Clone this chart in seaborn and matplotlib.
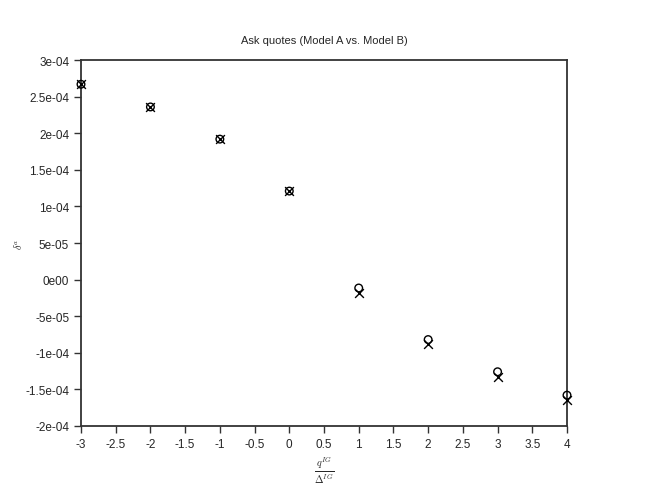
import matplotlib
matplotlib.use("Agg")
import matplotlib.pyplot as plt
import seaborn as sns
import pandas as pd

# Data
q_ratio = [-3, -2, -1, 0, 1, 2, 3, 4]
model_a = [2.67e-4, 2.36e-4, 1.92e-4, 1.21e-4, -1.15e-5, -8.2e-5, -1.26e-4, -1.58e-4]
model_b = [2.67e-4, 2.36e-4, 1.92e-4, 1.21e-4, -1.8e-5, -8.8e-5, -1.33e-4, -1.65e-4]

x_ticks = [-3, -2.5, -2, -1.5, -1, -0.5, 0, 0.5, 1, 1.5, 2, 2.5, 3, 3.5, 4]
x_tick_labels = ["-3", "-2.5", "-2", "-1.5", "-1", "-0.5", "0", "0.5", "1",
                 "1.5", "2", "2.5", "3", "3.5", "4"]
y_ticks = [-2e-4, -1.5e-4, -1e-4, -5e-5, 0, 5e-5, 1e-4, 1.5e-4, 2e-4, 2.5e-4, 3e-4]
y_tick_labels = ["-2e-04", "-1.5e-04", "-1e-04", "-5e-05", "0e00", "5e-05",
                 "1e-04", "1.5e-04", "2e-04", "2.5e-04", "3e-04"]

df = pd.DataFrame({"q": q_ratio, "A": model_a, "B": model_b})

sns.set_style("white")
plt.rcParams['font.family'] = ['Liberation Sans', 'DejaVu Sans']
plt.rcParams['mathtext.fontset'] = 'cm'

fig = plt.figure(figsize=(6.48, 4.89), dpi=100)
ax = fig.add_axes([0.125, 0.127, 0.75, 0.748])

sns.scatterplot(data=df, x="q", y="A", marker="o", s=30, facecolor="none",
                edgecolor="black", linewidth=1.0, ax=ax, clip_on=False, zorder=3)
sns.scatterplot(data=df, x="q", y="B", marker="x", s=40, color="black",
                linewidth=1.0, ax=ax, clip_on=False, zorder=3)

ax.set_xlim(-3, 4)
ax.set_ylim(-2e-4, 3e-4)
ax.set_xticks(x_ticks)
ax.set_xticklabels(x_tick_labels)
ax.set_yticks(y_ticks)
ax.set_yticklabels(y_tick_labels)
ax.tick_params(axis="both", direction="out", length=5, width=1, labelsize=8.5,
               color="#333333", bottom=True, left=True)

for side in ax.spines.values():
    side.set_linewidth(1.3)
    side.set_color("#333333")

ax.set_title("Ask quotes (Model A vs. Model B)", fontsize=8, pad=12)
ax.set_xlabel(r"$\frac{q^{IG}}{\Delta^{IG}}$", fontsize=10.5)
ax.set_ylabel(r"$\delta^{a}$", fontsize=7.5, labelpad=1)

plt.savefig("out.png", dpi=100)
